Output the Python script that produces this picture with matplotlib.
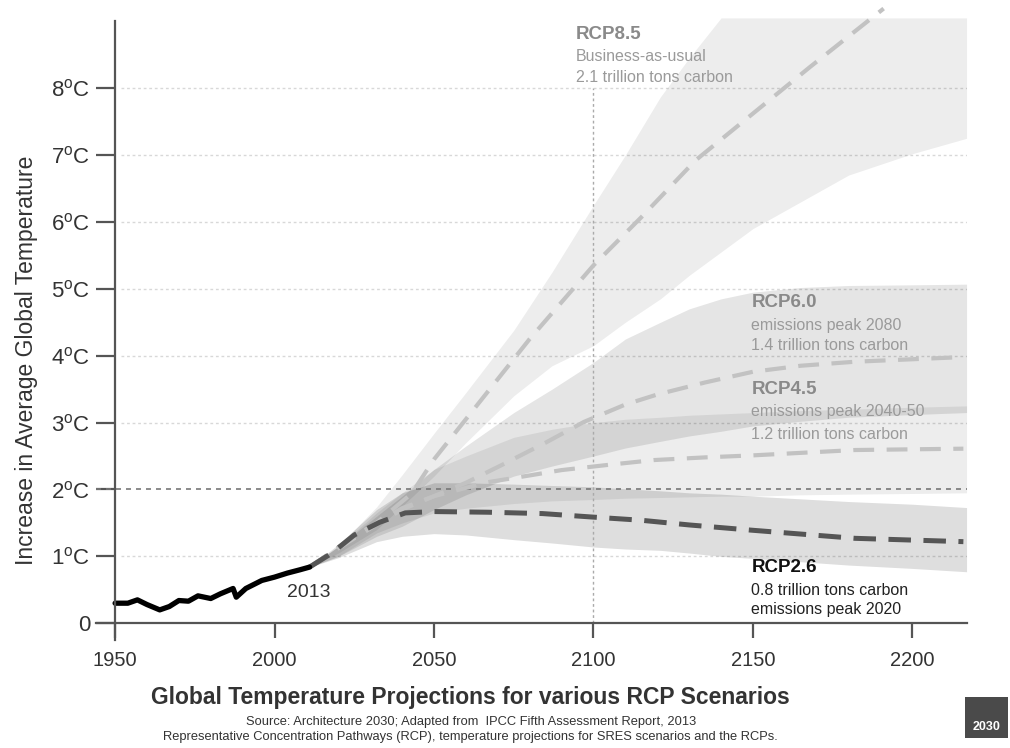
import matplotlib
matplotlib.use("Agg")
import matplotlib.pyplot as plt

plt.rcParams["font.family"] = ["Liberation Sans", "DejaVu Sans"]
plt.rcParams["mathtext.fontset"] = "custom"
plt.rcParams["mathtext.rm"] = "Liberation Sans"

# observed record
hist_years = [1950, 1954, 1957, 1960, 1964, 1967, 1970, 1973, 1976, 1980, 1983,
              1987, 1988, 1991, 1996, 2000, 2004, 2008, 2011]
hist_temp = [0.30, 0.30, 0.35, 0.28, 0.20, 0.25, 0.34, 0.33, 0.41, 0.37, 0.44,
             0.52, 0.39, 0.52, 0.64, 0.69, 0.75, 0.80, 0.84]

# scenario medians
rcp85_years = [2011, 2020, 2030, 2043, 2050, 2060, 2070, 2080, 2090, 2100, 2115,
               2132, 2150, 2168, 2191]
rcp85_temp = [0.84, 1.12, 1.42, 1.94, 2.45, 3.05, 3.65, 4.25, 4.80, 5.35, 6.07,
              6.92, 7.62, 8.32, 9.19]

rcp60_years = [2011, 2025, 2040, 2050, 2060, 2071, 2085, 2097, 2110, 2120, 2135,
               2150, 2165, 2182, 2216]
rcp60_temp = [0.84, 1.28, 1.70, 1.90, 2.10, 2.36, 2.70, 3.01, 3.27, 3.42, 3.60,
              3.76, 3.85, 3.91, 3.98]

rcp45_years = [2011, 2025, 2040, 2050, 2067, 2080, 2090, 2105, 2119, 2135, 2150,
               2182, 2216]
rcp45_temp = [0.84, 1.30, 1.72, 1.90, 2.11, 2.21, 2.29, 2.37, 2.44, 2.48, 2.51,
              2.59, 2.61]

rcp26_years = [2011, 2018, 2025, 2033, 2041, 2050, 2067, 2084, 2099, 2115, 2130,
               2150, 2182, 2216]
rcp26_temp = [0.84, 1.05, 1.32, 1.51, 1.65, 1.67, 1.66, 1.64, 1.59, 1.54, 1.47,
              1.39, 1.27, 1.22]

# uncertainty ranges
band_years = [2011, 2020, 2032, 2040, 2050, 2060, 2075, 2087, 2100, 2110, 2121,
              2130, 2140, 2150, 2165, 2180, 2200, 2217]
rcp85_low = [0.84, 1.05, 1.40, 1.75, 2.20, 2.70, 3.40, 3.85, 4.15, 4.50, 4.85,
             5.20, 5.55, 5.90, 6.30, 6.70, 7.02, 7.25]
rcp85_high = [0.84, 1.15, 1.74, 2.22, 2.84, 3.45, 4.38, 5.25, 6.25, 7.00, 7.87,
              8.45, 9.05, 9.05, 9.05, 9.05, 9.05, 9.05]
rcp60_low = [0.84, 1.00, 1.30, 1.45, 1.70, 1.92, 2.20, 2.35, 2.50, 2.62, 2.72,
             2.80, 2.87, 2.95, 3.02, 3.08, 3.12, 3.15]
rcp60_high = [0.84, 1.15, 1.60, 1.90, 2.30, 2.65, 3.15, 3.50, 3.90, 4.25, 4.50,
              4.70, 4.85, 4.95, 5.02, 5.05, 5.06, 5.07]
rcp45_low = [0.84, 1.00, 1.35, 1.50, 1.65, 1.72, 1.79, 1.83, 1.85, 1.87, 1.88,
             1.89, 1.90, 1.90, 1.92, 1.93, 1.94, 1.95]
rcp45_high = [0.84, 1.15, 1.65, 1.95, 2.30, 2.50, 2.78, 2.90, 3.00, 3.05, 3.08,
              3.11, 3.13, 3.15, 3.18, 3.20, 3.23, 3.25]
rcp26_low = [0.84, 0.98, 1.22, 1.30, 1.34, 1.32, 1.25, 1.20, 1.14, 1.11, 1.09,
             1.05, 1.00, 0.97, 0.92, 0.87, 0.82, 0.77]
rcp26_high = [0.84, 1.18, 1.70, 1.95, 2.10, 2.10, 2.08, 2.06, 2.04, 2.01, 1.98,
              1.95, 1.93, 1.90, 1.86, 1.82, 1.78, 1.73]

y_ticks = [0, 1, 2, 3, 4, 5, 6, 7, 8]
y_labels = ["0"] + [f"{t}$^{{\\rm o}}$C" for t in y_ticks[1:]]
x_ticks = [1950, 2000, 2050, 2100, 2150, 2200]

fig = plt.figure(figsize=(10.1, 7.48), dpi=100)
ax = fig.add_axes([0.095, 0.1444, 0.862, 0.854])
ax.set_xlim(1944, 2217)
ax.set_ylim(-0.25, 9.3)

# grid
for t in y_ticks[1:]:
    if t == 2:
        continue
    ax.hlines(t, 1952, 2217, color="#d8d8d8", lw=1, ls=(0, (2, 2)), zorder=1)
ax.axhline(2, color="#777777", lw=1.2, ls=(0, (3, 3)), zorder=4)
ax.vlines(2100, 0, 8, color="#aaaaaa", lw=1, ls=(0, (2, 2)), zorder=4)

# bands
ax.fill_between(band_years, rcp85_low, rcp85_high, color="black", alpha=0.07,
                lw=0, zorder=2)
ax.fill_between(band_years, rcp60_low, rcp60_high, color="black", alpha=0.10,
                lw=0, zorder=2)
ax.fill_between(band_years, rcp45_low, rcp45_high, color="black", alpha=0.07,
                lw=0, zorder=2)
ax.fill_between(band_years, rcp26_low, rcp26_high, color="black", alpha=0.13,
                lw=0, zorder=2)

# medians
light = "#c2c2c2"
ax.plot(rcp85_years, rcp85_temp, color=light, lw=3, ls=(0, (5, 3)), zorder=5)
ax.plot(rcp60_years, rcp60_temp, color=light, lw=3, ls=(0, (5, 3)), zorder=5)
ax.plot(rcp45_years, rcp45_temp, color=light, lw=3, ls=(0, (5, 3)), zorder=5)
ax.plot(rcp26_years, rcp26_temp, color="#555555", lw=3.6, ls=(0, (4.5, 2.5)),
        zorder=6)
ax.plot(hist_years, hist_temp, color="black", lw=3.8, solid_capstyle="round",
        solid_joinstyle="round", zorder=7)

# axes styling
for s in ["top", "right"]:
    ax.spines[s].set_visible(False)
ax.spines["left"].set_position(("data", 1950))
ax.spines["bottom"].set_position(("data", 0))
ax.spines["left"].set_bounds(-0.25, 9.0)
for s in ["left", "bottom"]:
    ax.spines[s].set_color("#555555")
    ax.spines[s].set_linewidth(1.6)
    ax.spines[s].set_zorder(8)

ax.set_yticks(y_ticks)
ax.set_yticklabels(y_labels)
ax.set_xticks(x_ticks)
ax.tick_params(axis="y", length=14, width=1.6, color="#555555", labelsize=16,
               labelcolor="#333333", pad=4)
ax.tick_params(axis="x", length=11, width=1.6, color="#555555", labelsize=14.5,
               labelcolor="#333333", pad=9)
ax.set_ylabel("Increase in Average Global Temperature", fontsize=16.5,
              color="#333333")
ax.yaxis.set_label_coords(-0.067, 0.438)

# annotations
grey = "#8a8a8a"
soft = "#9a9a9a"
ax.text(2004, 0.46, "2013", fontsize=14, color="#333333", va="center", ha="left")
ax.text(2094.5, 8.80, "RCP8.5", fontsize=13.5, fontweight="bold", color=grey,
        va="center")
ax.text(2094.5, 8.47, "Business-as-usual", fontsize=11.5, color=soft,
        va="center")
ax.text(2094.5, 8.16, "2.1 trillion tons carbon", fontsize=11.5, color=soft,
        va="center")
ax.text(2149.5, 4.80, "RCP6.0", fontsize=13.5, fontweight="bold", color=grey,
        va="center")
ax.text(2149.5, 4.45, "emissions peak 2080", fontsize=11.5, color=soft,
        va="center")
ax.text(2149.5, 4.16, "1.4 trillion tons carbon", fontsize=11.5, color=soft,
        va="center")
ax.text(2149.5, 3.50, "RCP4.5", fontsize=13.5, fontweight="bold", color=grey,
        va="center")
ax.text(2149.5, 3.16, "emissions peak 2040-50", fontsize=11.5, color=soft,
        va="center")
ax.text(2149.5, 2.82, "1.2 trillion tons carbon", fontsize=11.5, color=soft,
        va="center")
ax.text(2149.5, 0.83, "RCP2.6", fontsize=13.5, fontweight="bold", color="#111111",
        va="center")
ax.text(2149.5, 0.49, "0.8 trillion tons carbon", fontsize=11.5, color="#222222",
        va="center")
ax.text(2149.5, 0.21, "emissions peak 2020", fontsize=11.5, color="#222222",
        va="center")

# titles
fig.text(0.466, 0.068, "Global Temperature Projections for various RCP Scenarios",
         fontsize=16.5, fontweight="bold", color="#333333", ha="center",
         va="center")
fig.text(0.466, 0.035, "Source: Architecture 2030; Adapted from  IPCC Fifth Assessment Report, 2013",
         fontsize=9.3, color="#333333", ha="center", va="center")
fig.text(0.466, 0.015, "Representative Concentration Pathways (RCP), temperature projections for SRES scenarios and the RCPs.",
         fontsize=9.3, color="#333333", ha="center", va="center")

# logo
logo = fig.add_axes([0.955, 0.014, 0.043, 0.054])
logo.set_facecolor("#4a4a4a")
logo.set_xticks([])
logo.set_yticks([])
for s in logo.spines.values():
    s.set_visible(False)
logo.text(0.5, 0.25, "2030", fontsize=9, fontweight="bold", color="white",
          ha="center", va="center", transform=logo.transAxes)

fig.savefig("out.png", dpi=100)
